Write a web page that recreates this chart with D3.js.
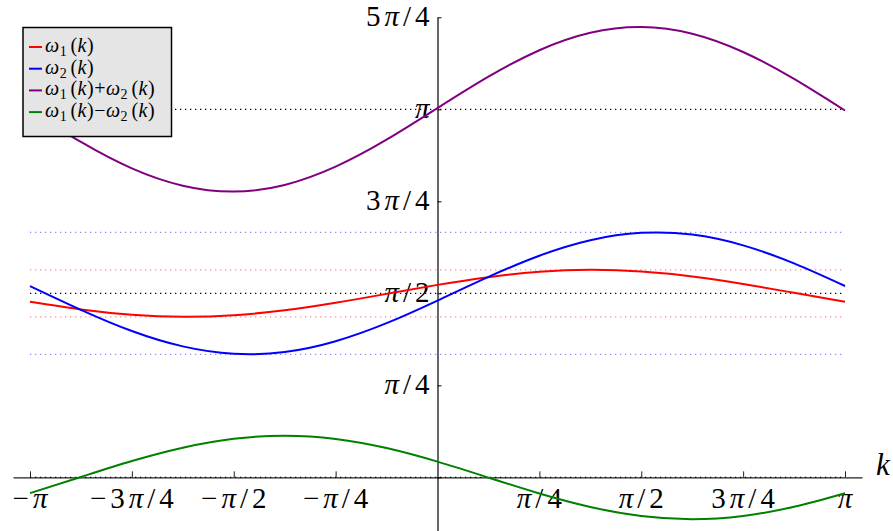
<!DOCTYPE html>
<html>
<head>
<meta charset="utf-8">
<script src="https://cdn.jsdelivr.net/npm/d3@7"></script>
<style>
  body { margin: 0; background: #fff; }
  svg { display: block; }
  svg text { font-family: "Liberation Serif"; }
  .tick-label { font-size: 29px; letter-spacing: 4px; }
  .axis-name { font-size: 31px; font-style: italic; }
  .legend-label { font-size: 20px; letter-spacing: 0.5px; }
</style>
</head>
<body>
<svg id="chart" width="893" height="531"></svg>
<script>
var PI = Math.PI;

// sample positions along k, in units of pi/8
var kEighths = [-8, -7, -6, -5, -4, -3, -2, -1, 0, 1, 2, 3, 4, 5, 6, 7, 8];

// values (radians)
var omega1    = [1.498, 1.433, 1.388, 1.371, 1.384, 1.426, 1.490, 1.566, 1.643, 1.709, 1.754, 1.771, 1.757, 1.715, 1.651, 1.575, 1.498];
var omega2    = [1.633, 1.430, 1.249, 1.118, 1.055, 1.070, 1.162, 1.316, 1.509, 1.711, 1.892, 2.024, 2.087, 2.072, 1.980, 1.826, 1.633];
var omegaSum  = [3.131, 2.863, 2.637, 2.489, 2.439, 2.496, 2.652, 2.882, 3.152, 3.420, 3.646, 3.795, 3.844, 3.787, 3.631, 3.401, 3.131];
var omegaDiff = [-0.135, 0.003, 0.139, 0.253, 0.329, 0.356, 0.328, 0.250, 0.134, -0.002, -0.138, -0.253, -0.330, -0.357, -0.329, -0.251, -0.135];

// dotted guide levels
var redBand     = [1.369, 1.771];
var blueBand    = [1.050, 2.091];
var blackLevels = [0, PI / 2, PI];

// ticks, in quarters of pi
var xTickQuarters = [-4, -3, -2, -1, 1, 2, 3, 4];
var xTickLabels   = ["−π", "−3π/4", "−π/2", "−π/4", "π/4", "π/2", "3π/4", "π"];
var yTickQuarters = [1, 2, 3, 4, 5];
var yTickLabels   = ["π/4", "π/2", "3π/4", "π", "5π/4"];

var seriesLabels = ["ω1(k)", "ω2(k)", "ω1(k)+ω2(k)", "ω1(k)−ω2(k)"];
var seriesColors = ["#ff0000", "#0000ff", "#800080", "#008000"];
var seriesValues = [omega1, omega2, omegaSum, omegaDiff];

var svg = d3.select("#chart");

var x = d3.scaleLinear().domain([-PI - 0.131, PI + 0.131]).range([13, 862]);
var y = d3.scaleLinear().domain([-0.458, 5 * PI / 4]).range([531, 17.3]);

// math-ish text: ω, k, π italic, a digit after ω becomes a subscript
function mathText(sel, str) {
  var chars = Array.from(str);
  var sub = false;
  chars.forEach(function(ch, i){
    var t = sel.append("tspan").text(ch);
    if (sub) {
      t.attr("dy", -4);   // back to baseline
      sub = false;
    }
    if ("ωkπ".indexOf(ch) >= 0) t.style("font-style", "italic");
    if (i > 0 && chars[i - 1] === "ω" && /[0-9]/.test(ch)) {
      t.style("font-size", "0.7em").attr("dy", 4).text(ch + "\u2009");
      sub = true;
    }
  });
}

// dotted guide lines
function guide(level, color, opacity) {
  svg.append("line")
    .attr("x1", x(-PI)).attr("x2", x(PI))
    .attr("y1", y(level)).attr("y2", y(level))
    .attr("stroke", color)
    .attr("stroke-opacity", opacity)
    .attr("stroke-width", 1.3)
    .attr("stroke-dasharray", "1.3,3.7");
}

// x axis
var xAxis = d3.axisBottom(x)
  .tickValues(xTickQuarters.map(function(q){ return q * PI / 4; }))
  .tickSize(-6).tickSizeOuter(0).tickFormat("");
var gx = svg.append("g").attr("transform", "translate(0," + y(0) + ")").call(xAxis);
gx.select(".domain").attr("stroke", "#222").attr("stroke-width", 1.2);
gx.selectAll(".tick line").attr("stroke", "#222");

// y axis
var yAxis = d3.axisRight(y)
  .tickValues([0].concat(yTickQuarters.map(function(q){ return q * PI / 4; })))
  .tickSize(4).tickSizeOuter(0).tickFormat("");
var gy = svg.append("g").attr("transform", "translate(" + x(0) + ",0)").call(yAxis);
gy.select(".domain").attr("stroke", "#000").attr("stroke-width", 1.2);
gy.selectAll(".tick line").attr("stroke", "#000");

blackLevels.forEach(function(l){ guide(l, "#000", 1); });
redBand.forEach(function(l){ guide(l, "#ff0000", 0.45); });
blueBand.forEach(function(l){ guide(l, "#0000ff", 0.45); });

// tick labels
svg.append("g").selectAll("text")
  .data(xTickQuarters)
  .enter().append("text")
    .attr("class", "tick-label")
    .attr("x", function(q){ return x(q * PI / 4) + 2; })
    .attr("y", y(0) + 31)
    .attr("text-anchor", "middle")
    .each(function(q, i){ mathText(d3.select(this), xTickLabels[i]); });

svg.append("g").selectAll("text")
  .data(yTickQuarters)
  .enter().append("text")
    .attr("class", "tick-label")
    .attr("x", x(0) - 4)
    .attr("y", function(q){ return y(q * PI / 4) + 9; })
    .attr("text-anchor", "end")
    .each(function(q, i){ mathText(d3.select(this), yTickLabels[i]); });

svg.append("text")
  .attr("class", "axis-name")
  .attr("x", 876).attr("y", 475)
  .text("k");

// curves
var line = d3.line()
  .x(function(d){ return x(d[0] * PI / 8); })
  .y(function(d){ return y(d[1]); })
  .curve(d3.curveNatural);

seriesValues.forEach(function(vals, s){
  svg.append("path")
    .datum(d3.zip(kEighths, vals))
    .attr("fill", "none")
    .attr("stroke", seriesColors[s])
    .attr("stroke-width", 2)
    .attr("d", line);
});

// legend
var lg = svg.append("g");
lg.append("rect")
  .attr("x", 23).attr("y", 27.5)
  .attr("width", 148.5).attr("height", 109)
  .attr("fill", "#e5e5e5")
  .attr("stroke", "#000")
  .attr("stroke-width", 1.5);

var entry = lg.selectAll("g.entry")
  .data(seriesLabels)
  .enter().append("g")
    .attr("class", "entry")
    .attr("transform", function(d, i){ return "translate(0," + (47 + i * 21.7) + ")"; });

entry.append("line")
  .attr("x1", 29).attr("x2", 42)
  .attr("stroke", function(d, i){ return seriesColors[i]; })
  .attr("stroke-width", 2);

entry.append("text")
  .attr("class", "legend-label")
  .attr("x", 45).attr("y", 5)
  .each(function(d){ mathText(d3.select(this), d); });
</script>
</body>
</html>
